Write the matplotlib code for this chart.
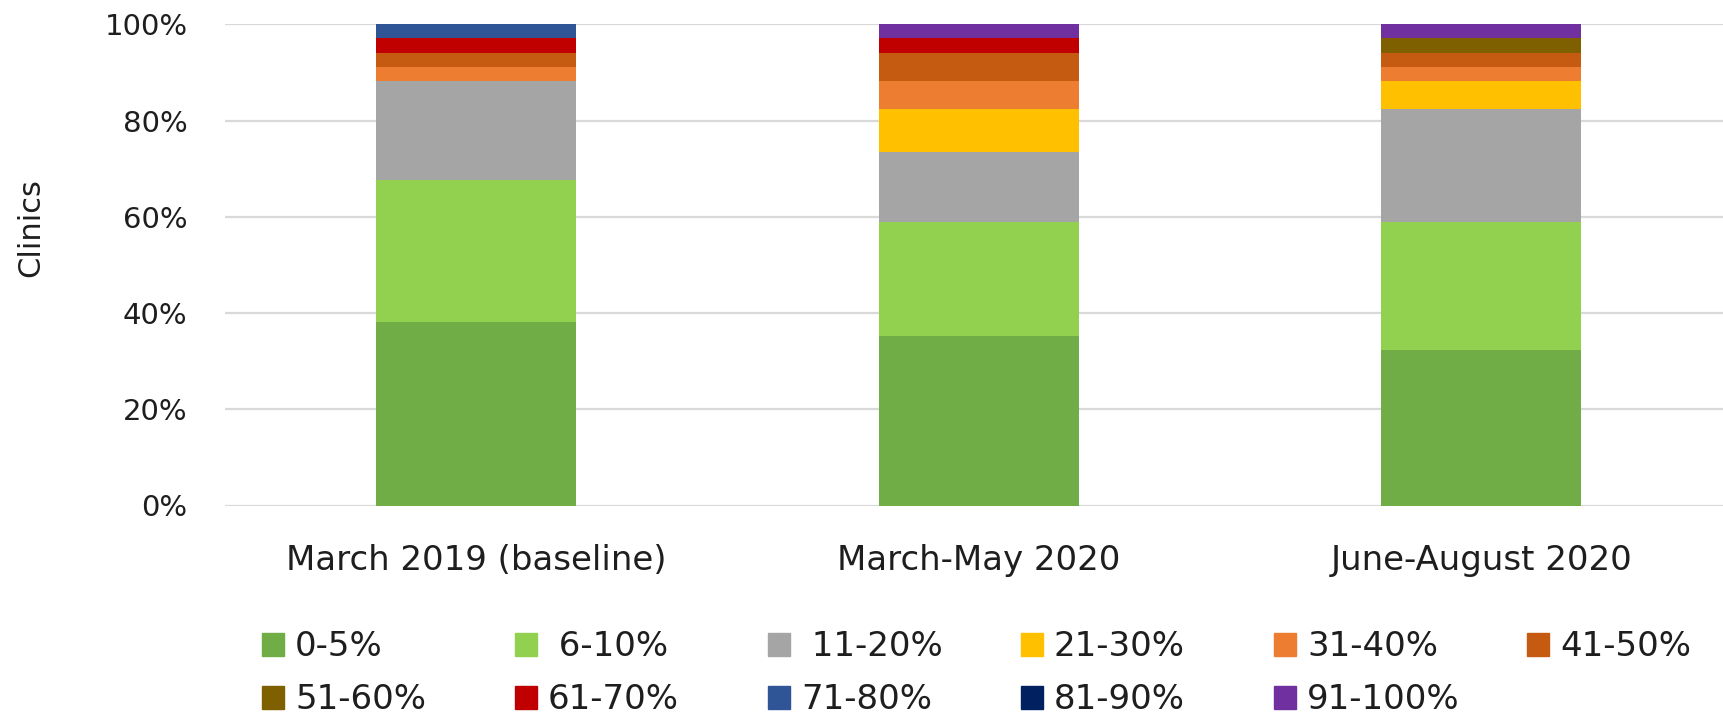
import matplotlib
matplotlib.use("Agg")
import matplotlib.pyplot as plt
from matplotlib.patches import Rectangle
import numpy as np

plt.rcParams['font.family'] = ['DejaVu Sans']

# ---- data (clinic counts per category, shown as 100% stacked) ----
categories = ["March 2019 (baseline)", "March-May 2020", "June-August 2020"]
bands = ["0-5%", " 6-10%", " 11-20%", "21-30%", "31-40%", "41-50%",
         "51-60%", "61-70%", "71-80%", "81-90%", "91-100%"]
counts_2019 = [13, 10, 7, 0, 1, 1, 0, 1, 1, 0, 0]
counts_mar_may = [12, 8, 5, 3, 2, 2, 0, 1, 0, 0, 1]
counts_jun_aug = [11, 9, 8, 2, 1, 1, 1, 0, 0, 0, 1]
colors = ["#70AD47", "#92D050", "#A5A5A5", "#FFC000", "#ED7D31", "#C55A11",
          "#7F6000", "#C00000", "#2F5597", "#002060", "#7030A0"]
yticks = [0, 20, 40, 60, 80, 100]

TXT = "#1E1E1E"
W, H = 1723, 717
fig = plt.figure(figsize=(W / 100, H / 100), dpi=100)
ax = fig.add_axes([225 / W, 1 - 505.5 / H, 1 - 225 / W, (505.5 - 24.3) / H])

data = np.array([counts_2019, counts_mar_may, counts_jun_aug], dtype=float)
pct = data / data.sum(axis=1, keepdims=True) * 100
x = np.arange(len(categories))
bottom = np.zeros(len(categories))
for j, band in enumerate(bands):
    ax.bar(x, pct[:, j], bottom=bottom, width=0.398, color=colors[j],
           label=band, zorder=3, linewidth=0)
    bottom += pct[:, j]

ax.set_xlim(-0.5, 2.481)
ax.set_ylim(0, 100)
ax.set_yticks(yticks)
ax.set_yticklabels([f"{v}%" for v in yticks])
ax.set_xticks(x)
ax.set_xticklabels(categories)
ax.yaxis.grid(True, color="#D9D9D9", linewidth=1.6, zorder=0)
ax.set_axisbelow(True)
for s in ax.spines.values():
    s.set_visible(False)
ax.tick_params(axis='y', length=0, pad=27, labelsize=21, labelcolor=TXT)
ax.tick_params(axis='x', length=0, pad=28, labelsize=24.5, labelcolor=TXT)

fig.text(31 / W, 1 - 228 / H, "Clinics", rotation=90, ha="center", va="center",
         fontsize=22, color=TXT)

# legend laid out like the original (row-major, 6 columns)
for i, band in enumerate(bands):
    r, c = divmod(i, 6)
    lx = 262 + c * 253
    base = 656 + r * 53
    fig.patches.append(Rectangle((lx / W, 1 - base / H), 22 / W, 23 / H,
                                 transform=fig.transFigure, color=colors[i]))
    fig.text((lx + 33) / W, 1 - base / H, band, ha="left", va="baseline",
             fontsize=24.5, color=TXT)

fig.savefig("out.png", dpi=100)
